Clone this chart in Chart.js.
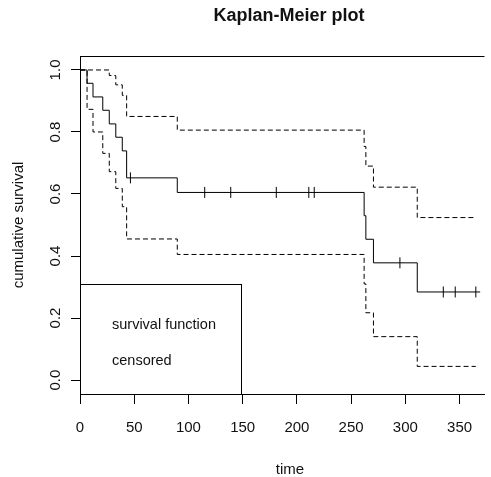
<!DOCTYPE html>
<html>
<head>
<meta charset="utf-8">
<title>Kaplan-Meier plot</title>
<script src="https://cdn.jsdelivr.net/npm/chart.js@4.4.0/dist/chart.umd.min.js"></script>
<style>
  html, body { margin: 0; padding: 0; background: #fff; overflow: hidden; }
  #wrap { width: 491px; height: 477px; }
</style>
</head>
<body>
<div id="wrap"><canvas id="kmChart" width="491" height="477"></canvas></div>
<script>
// step times
const eventTimes = [0, 6.5, 12, 21, 27, 33, 39, 43, 89.7, 262, 263.6, 270.6, 311, 369];
const survival   = [1, 0.957, 0.913, 0.870, 0.826, 0.783, 0.739, 0.652, 0.605, 0.530, 0.454, 0.378, 0.284, 0.284];
const ciTimes    = [0, 6.5, 12, 21, 27, 33, 39, 43, 89.7, 262, 263.6, 270.6, 311, 365];
const lowerCI    = [1, 0.873, 0.800, 0.731, 0.672, 0.618, 0.559, 0.455, 0.405, 0.310, 0.217, 0.140, 0.044, 0.044];
const upperCI    = [1, 1, 1, 1, 0.982, 0.952, 0.918, 0.850, 0.806, 0.753, 0.690, 0.622, 0.524, 0.524];
const censorTimes = [46.5, 115, 139, 181, 211, 216, 295, 335, 346, 365];
const censorSurv  = [0.652, 0.605, 0.605, 0.605, 0.605, 0.605, 0.378, 0.284, 0.284, 0.284];
const xTicks = [0, 50, 100, 150, 200, 250, 300, 350];
const yTicks = [0, 0.2, 0.4, 0.6, 0.8, 1.0];

const FONT = '"Liberation Sans", Arial, sans-serif';
const toXY = (xs, ys) => xs.map((t, i) => ({ x: t, y: ys[i] }));

const rText = {
    id: 'rText',
    afterDraw(chart) {
        const { ctx, chartArea: a, scales: { y } } = chart;
        ctx.save();
        ctx.strokeStyle = '#000';
        ctx.lineWidth = 1;
        // top edge of the box
        ctx.beginPath();
        ctx.moveTo(a.left, a.top + 0.5);
        ctx.lineTo(a.right, a.top + 0.5);
        ctx.stroke();
        // legend box
        ctx.strokeRect(a.left + 0.5, 284.5, 161, a.bottom - 284);

        ctx.fillStyle = '#111';
        ctx.textBaseline = 'alphabetic';
        ctx.textAlign = 'center';
        ctx.font = 'bold 18px ' + FONT;
        ctx.fillText('Kaplan-Meier plot', 289, 21);
        ctx.font = '15px ' + FONT;
        ctx.fillText('time', 290, 474);

        yTicks.forEach(v => {
            ctx.save();
            ctx.translate(60, y.getPixelForValue(v));
            ctx.rotate(-Math.PI / 2);
            ctx.fillText(v.toFixed(1), 0, 0);
            ctx.restore();
        });
        ctx.save();
        ctx.translate(23, 225);
        ctx.rotate(-Math.PI / 2);
        ctx.fillText('cumulative survival', 0, 0);
        ctx.restore();

        ctx.textAlign = 'left';
        ctx.font = '14.5px ' + FONT;
        ctx.fillText('survival function', 112, 329);
        ctx.fillText('censored', 112, 365);
        ctx.restore();
    }
};

document.addEventListener('DOMContentLoaded', () => {
    const ctx = document.getElementById('kmChart').getContext('2d');
    new Chart(ctx, {
        type: 'line',
        data: {
            datasets: [
                {
                    label: 'survival function',
                    data: toXY(eventTimes, survival),
                    borderColor: '#000',
                    borderWidth: 1,
                    pointRadius: 0,
                    stepped: true
                },
                {
                    label: 'upper',
                    data: toXY(ciTimes, upperCI),
                    borderColor: '#000',
                    borderWidth: 1,
                    borderDash: [5, 3],
                    pointRadius: 0,
                    stepped: true
                },
                {
                    label: 'lower',
                    data: toXY(ciTimes, lowerCI),
                    borderColor: '#000',
                    borderWidth: 1,
                    borderDash: [5, 3],
                    pointRadius: 0,
                    stepped: true
                },
                {
                    type: 'scatter',
                    label: 'censored',
                    data: toXY(censorTimes, censorSurv),
                    borderColor: '#000',
                    borderWidth: 1,
                    pointStyle: 'line',
                    rotation: 90,
                    pointRadius: 5.5,
                    showLine: false
                }
            ]
        },
        options: {
            responsive: false,
            animation: false,
            devicePixelRatio: 1,
            layout: { padding: { left: 0, top: 56, right: 0, bottom: 0 } },
            plugins: { legend: { display: false }, tooltip: { enabled: false }, title: { display: false } },
            scales: {
                x: {
                    type: 'linear',
                    min: 0,
                    max: 373,
                    afterBuildTicks: s => { s.ticks = xTicks.map(v => ({ value: v })); },
                    afterFit: s => { s.height = 83; },
                    grid: { drawOnChartArea: false, tickLength: 10, color: '#000' },
                    border: { display: true, color: '#000', width: 1 },
                    ticks: { color: '#111', padding: 15, maxRotation: 0, font: { family: FONT, size: 15 } }
                },
                y: {
                    type: 'linear',
                    min: -0.045,
                    max: 1.045,
                    afterBuildTicks: s => { s.ticks = yTicks.map(v => ({ value: v })); },
                    afterFit: s => { s.width = 80; },
                    grid: { drawOnChartArea: false, tickLength: 9, color: '#000' },
                    border: { display: true, color: '#000', width: 1 },
                    ticks: { display: false }
                }
            }
        },
        plugins: [rText]
    });
});
</script>
</body>
</html>
